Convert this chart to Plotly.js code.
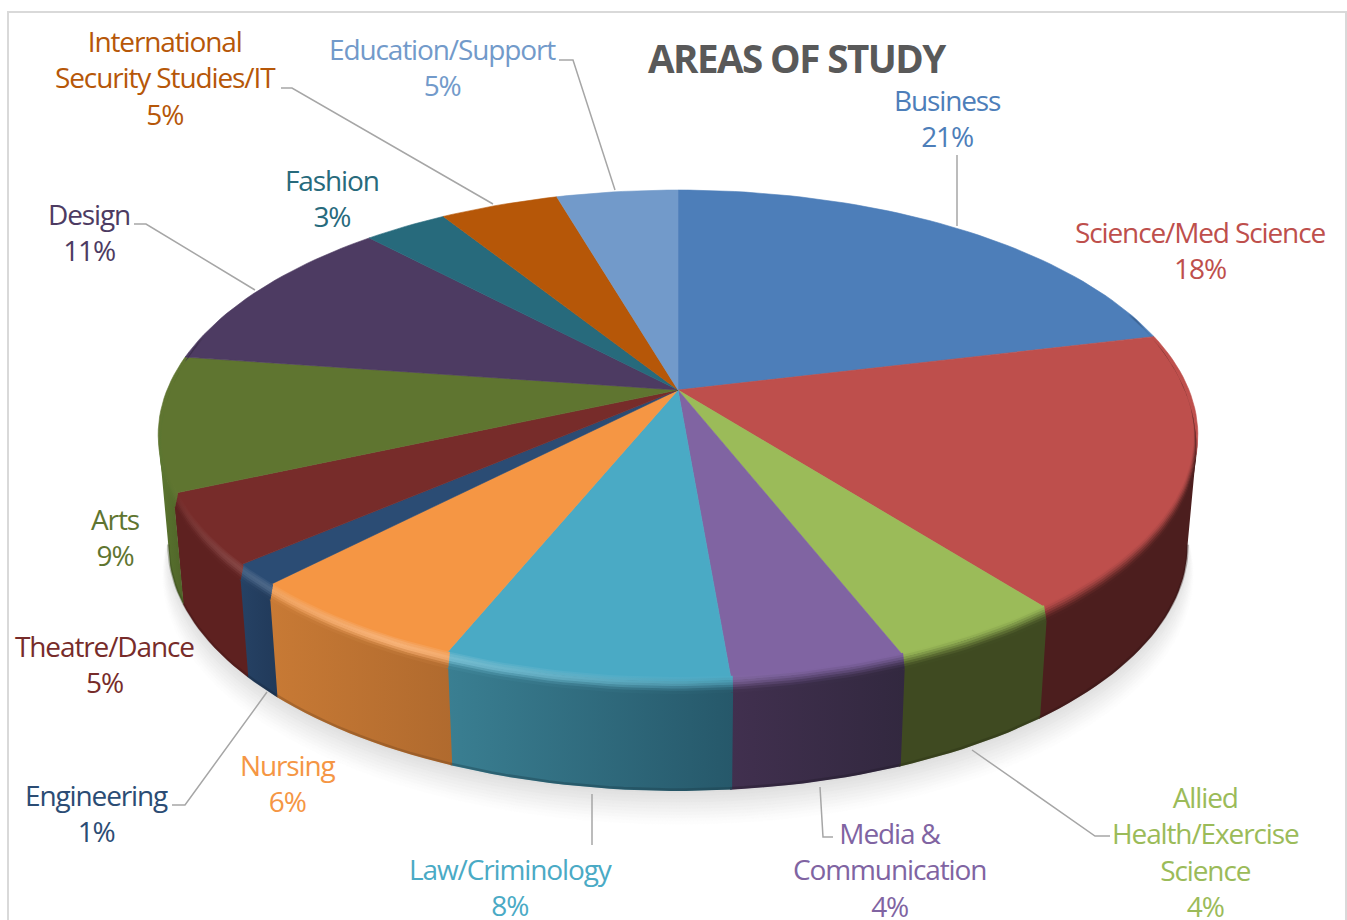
<!DOCTYPE html>
<html><head><meta charset="utf-8">
<script src="https://cdn.plot.ly/plotly-3.0.1.min.js"></script>
<style>
html,body{margin:0;padding:0;background:#fff;overflow:hidden}
.annotation-text{letter-spacing:-0.04em}
</style></head>
<body><div id="chart" style="width:1347px;height:920px"></div>
<script>
// ---- data ----
const categories = ["Business","Science/Med Science","Allied Health/Exercise Science","Media & Communication","Law/Criminology","Nursing","Engineering","Theatre/Dance","Arts","Design","Fashion","International Security Studies/IT","Education/Support"];
const shares = [21.2,18.2,4.6,4.6,7.5,6.1,1.4,4.7,8.9,10.7,3.1,4.4,4.5];
const percentLabels = ["21%","18%","4%","4%","8%","6%","1%","5%","9%","11%","3%","5%","5%"];
const labelLines = [["Business"],["Science/Med Science"],["Allied","Health/Exercise","Science"],["Media &","Communication"],["Law/Criminology"],["Nursing"],["Engineering"],["Theatre/Dance"],["Arts"],["Design"],["Fashion"],["International","Security Studies/IT"],["Education/Support"]];

// ---- styles ----
const faceColors = ["#4d7eb9","#be4f4c","#9bbb59","#8064a2","#4aaac5","#f59644","#2b4c74","#772c2a","#5f7530","#4d3b62","#276a7c","#b65708","#729aca"];
const wallLeft   = ["#3a5f8c","#4c1e1e","#3f4a21","#41304f","#3a7f92","#c87a35","#264265","#5e2120","#5b7630","#3a2c4a","#1d505e","#884106","#56749a"];
const wallRight  = ["#3a5f8c","#4c1e1e","#3f4a21","#32283f","#26586a","#b06a2e","#213a5a","#5e2120","#4f6428","#3a2c4a","#1d505e","#884106","#56749a"];
const labelPos = [[947,118],[1200,250],[1205,851],[889,869],[511,887],[288,783],[96,813],[104,664],[115,537],[89,232],[332,198],[165,77.5],[442,67]];
const leaders = [
 [[281,88],[292,88],[493,204]],
 [[559,60],[573,60],[615,190]],
 [[957,155],[957,226]],
 [[134,224],[146,224],[255,290]],
 [[172,805],[185,805],[267,692]],
 [[592,794],[592,845]],
 [[820,787],[823,837],[833,837]],
 [[972,750],[1095,836],[1110,836]]
];
const CX=678, CY=390, A=236.7, B=511, K=0.1837, DEPTH=111, BEVEL=14;

// perspective projection of the disc: angle in degrees clockwise from the top
function proj(deg,r,z){
  const t=deg*Math.PI/180, u=r*Math.sin(t), v=r*Math.cos(t), d=1+K*v;
  const s=1-0.02*Math.max(z,0)/DEPTH;
  return [CX+s*B*u/d, CY-A*v/d+z];
}
function hex(c){return [1,3,5].map(i=>parseInt(c.substr(i,2),16));}
function mix(a,b,t){const x=hex(a),y=hex(b);return "#"+x.map((v,i)=>Math.round(v+(y[i]-v)*t).toString(16).padStart(2,"0")).join("");}
function poly(pts,color,extra){
  return Object.assign({type:"scatter",mode:"lines",x:pts.map(p=>p[0]),y:pts.map(p=>p[1]),fill:"toself",fillcolor:color,
    line:{color:color,width:0.6},hoverinfo:"skip",showlegend:false},extra||{});
}
function gradPoly(pts,stops){
  return {type:"scatter",mode:"lines",x:pts.map(p=>p[0]),y:pts.map(p=>p[1]),fill:"toself",
    fillgradient:{type:"horizontal",colorscale:stops},line:{width:0,color:"rgba(0,0,0,0)"},hoverinfo:"skip",showlegend:false};
}
function arc(a0,a1,fn){const n=Math.ceil((a1-a0)/1.5),o=[];for(let j=0;j<=n;j++){o.push(fn(a0+(a1-a0)*j/n));}return o;}

const traces=[];
// soft shadow below the pie
const SH=12;
for(let i=0;i<SH;i++){
  const f=i/(SH-1), z=DEPTH+30-f*27, sc=1.018-f*0.022, pts=[];
  for(let a=0;a<=360;a+=3){pts.push(proj(a,sc,z));}
  traces.push(poly(pts,mix("#ffffff","#dedede",Math.pow(f,1.2))));
}
// slice boundaries
const bounds=[0];
shares.forEach(s=>bounds.push(bounds[bounds.length-1]+s));
const total=bounds[bounds.length-1];
const ang=bounds.map(b=>b*360/total);

const WFROM=100.6, WTO=259.4, BFROM=70, BTO=285, OVER=0.2;
// side walls
shares.forEach((s,i)=>{
  const a0=Math.max(ang[i]-OVER,WFROM), a1=Math.min(ang[i+1],WTO);
  if(a1<=a0) return;
  const top=arc(a0,a1,a=>proj(a,1,0)), bot=arc(a0,a1,a=>proj(a,1,DEPTH)).reverse();
  const pts=top.concat(bot,[top[0]]);
  traces.push(gradPoly(pts,[[0,wallLeft[i]],[1,wallRight[i]]]));
});
// darker lower edge of the wall
shares.forEach((s,i)=>{
  const a0=Math.max(ang[i],WFROM), a1=Math.min(ang[i+1],WTO);
  if(a1<=a0) return;
  const e=arc(a0,a1,a=>proj(a,1,DEPTH-1.5));
  traces.push({type:"scatter",mode:"lines",x:e.map(p=>p[0]),y:e.map(p=>p[1]),opacity:0.35,
    line:{color:mix(wallRight[i],"#000000",0.35),width:2.5},hoverinfo:"skip",showlegend:false});
});
// top face
shares.forEach((s,i)=>{
  const pts=[[CX,CY]].concat(arc(ang[i],ang[i+1],a=>proj(a,1,0)),[[CX,CY]]);
  traces.push(poly(pts,faceColors[i],{name:categories[i],hoverinfo:"text",hoveron:"fills",text:categories[i]+" "+percentLabels[i]}));
});
// rounded rim (bevel) between the face and the wall
const BANDS=7;
function glow(a){return Math.max(0,1-Math.abs(a-208)/40);}
function taper(a){return Math.min(1,Math.max(0,(a-BFROM)/30),Math.max(0,(BTO-a)/25));}
shares.forEach((s,i)=>{
  const a0=Math.max(ang[i]-OVER,BFROM), a1=Math.min(ang[i+1],BTO);
  if(a1<=a0) return;
  for(let b=0;b<BANDS;b++){
    const t0=Math.max(0,b/BANDS-0.04),t1=(b+1)/BANDS,t=(b+0.5)/BANDS;
    const rr=x=>0.992+0.008*x;
    const inner=arc(a0,a1,a=>proj(a,rr(t0),BEVEL*t0*taper(a)));
    const outer=arc(a0,a1,a=>proj(a,rr(t1),BEVEL*t1*taper(a))).reverse();
    const pts=inner.concat(outer,[inner[0]]);
    // colour along the arc, as stops over the polygon's horizontal extent
    const xs=pts.map(p=>p[0]), xmin=Math.min(...xs), xmax=Math.max(...xs);
    const samp=[];
    for(let k=0;k<=8;k++){
      const a=a0+(a1-a0)*k/8, x=proj(a,rr(t),BEVEL*t*taper(a))[0], fx=(x-xmin)/(xmax-xmin);
      const wall=mix(wallLeft[i],wallRight[i],Math.min(1,Math.max(0,fx)));
      const base=mix(faceColors[i],wall,t*t*(3-2*t));
      const light=mix(faceColors[i],"#ffffff",0.28);
      const col=mix(base,light,glow(a)*Math.exp(-Math.pow((t-0.4)/0.32,2)));
      samp.push([Math.min(1,Math.max(0,fx)),col]);
    }
    samp.sort((p,q)=>p[0]-q[0]);
    samp[0][0]=0; samp[samp.length-1][0]=1;
    traces.push(gradPoly(pts,samp));
  }
});

// labels
const annotations=categories.map((c,i)=>({
  x:labelPos[i][0],y:labelPos[i][1],xref:"x",yref:"y",xanchor:"center",yanchor:"middle",align:"center",showarrow:false,
  text:labelLines[i].concat(percentLabels[i]).join("<br>"),
  font:{family:"'Open Sans',sans-serif",size:28,color:faceColors[i]}
}));
annotations.push({x:797,y:58,xref:"x",yref:"y",xanchor:"center",yanchor:"middle",showarrow:false,
  text:"<b>AREAS OF STUDY</b>",font:{family:"'Open Sans',sans-serif",size:38.5,color:"#595959"}});

const shapes=leaders.map(l=>({type:"path",xref:"x",yref:"y",
  path:l.map((p,i)=>(i?"L":"M")+p[0]+" "+p[1]).join(" "),line:{color:"#a6a6a6",width:1.5}}));
shapes.push({type:"rect",xref:"x",yref:"y",x0:8,y0:12,x1:1346,y1:935,line:{color:"#d9d9d9",width:2},layer:"below"});

Plotly.newPlot("chart",traces,{
  width:1347,height:920,margin:{l:0,r:0,t:0,b:0},paper_bgcolor:"#ffffff",plot_bgcolor:"#ffffff",showlegend:false,
  xaxis:{range:[0,1347],visible:false,fixedrange:true},
  yaxis:{range:[920,0],visible:false,fixedrange:true},
  annotations:annotations,shapes:shapes,hovermode:"closest"
},{displayModeBar:false});
</script></body></html>
